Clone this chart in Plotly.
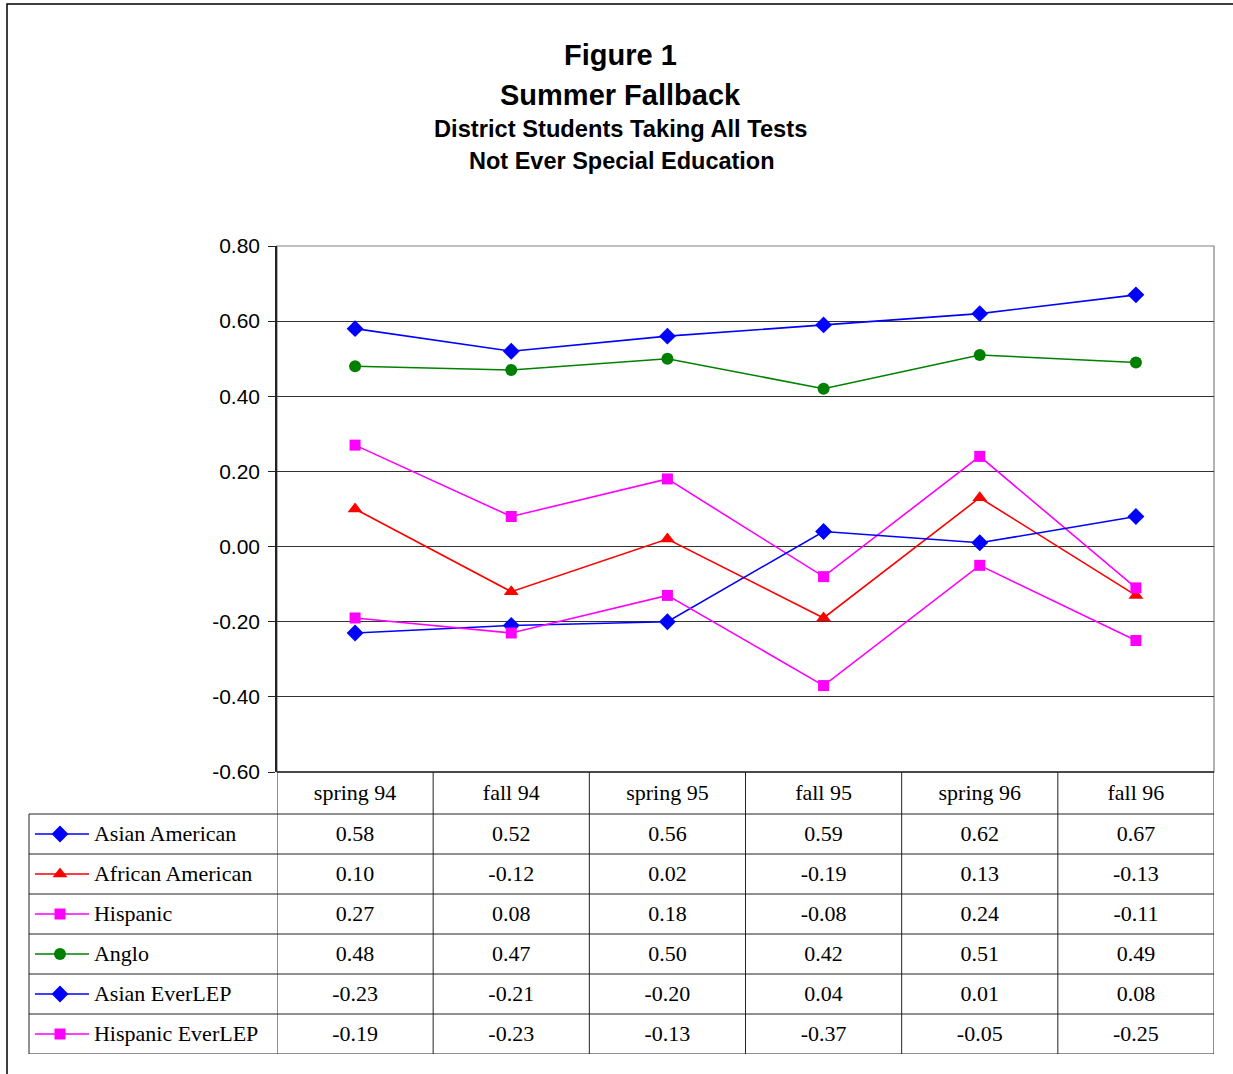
import plotly.graph_objects as go

# ---- data -------------------------------------------------------------
categories = ["spring 94", "fall 94", "spring 95", "fall 95", "spring 96", "fall 96"]

asian_american = [0.58, 0.52, 0.56, 0.59, 0.62, 0.67]
african_american = [0.10, -0.12, 0.02, -0.19, 0.13, -0.13]
hispanic = [0.27, 0.08, 0.18, -0.08, 0.24, -0.11]
anglo = [0.48, 0.47, 0.50, 0.42, 0.51, 0.49]
asian_everlep = [-0.23, -0.21, -0.20, 0.04, 0.01, 0.08]
hispanic_everlep = [-0.19, -0.23, -0.13, -0.37, -0.05, -0.25]

y_ticks = [-0.60, -0.40, -0.20, 0.00, 0.20, 0.40, 0.60, 0.80]

series = [
    ("Asian American", asian_american, "#0000FF", "diamond", 13),
    ("African American", african_american, "#FF0000", "triangle-up", 13),
    ("Hispanic", hispanic, "#FF00FF", "square", 11),
    ("Anglo", anglo, "#008000", "circle", 12),
    ("Asian EverLEP", asian_everlep, "#0000FF", "diamond", 13),
    ("Hispanic EverLEP", hispanic_everlep, "#FF00FF", "square", 11),
]

# ---- page geometry (pixels) ------------------------------------------
W, H = 1233, 1074
px = lambda v: v / W
py = lambda v: 1 - v / H

PLOT_L, PLOT_R, PLOT_T, PLOT_B = 277, 1214, 246, 772
TABLE_L, TABLE_B = 29, 1054

SERIF = "Liberation Serif, Times New Roman, serif"
SANS = "Liberation Sans, Arial, sans-serif"
LINE_COL = "#222222"
TABLE_FONT = dict(family=SERIF, size=22, color="black")

xs = list(range(len(categories)))
fig = go.Figure()

# chart lines
for name, vals, color, symbol, size in series:
    fig.add_trace(go.Scatter(
        x=xs, y=vals, mode="lines+markers", name=name,
        line=dict(color=color, width=1.6),
        marker=dict(color=color, symbol=symbol, size=size, line=dict(width=0)),
        xaxis="x", yaxis="y", showlegend=False, hoverinfo="skip",
    ))

# data table: header row (row 0) and one row per series (rows 1..6)
fig.add_trace(go.Scatter(
    x=xs, y=[0] * len(categories), mode="text", text=categories,
    textfont=TABLE_FONT,
    xaxis="x", yaxis="y2", showlegend=False, hoverinfo="skip",
))
for i, (name, vals, color, symbol, size) in enumerate(series, start=1):
    fig.add_trace(go.Scatter(
        x=xs, y=[i + 0.04] * len(vals), mode="text",
        text=[f"{v:.2f}" for v in vals],
        textfont=TABLE_FONT,
        xaxis="x", yaxis="y2", showlegend=False, hoverinfo="skip",
    ))
    # legend key inside the table's first column
    fig.add_trace(go.Scatter(
        x=[0.024, 0.242], y=[i, i], mode="lines",
        line=dict(color=color, width=1.6),
        xaxis="x3", yaxis="y2", showlegend=False, hoverinfo="skip",
    ))
    fig.add_trace(go.Scatter(
        x=[0.125], y=[i], mode="markers",
        marker=dict(color=color, symbol=symbol, size=size, line=dict(width=0)),
        xaxis="x3", yaxis="y2", showlegend=False, hoverinfo="skip",
    ))
    fig.add_trace(go.Scatter(
        x=[0.262], y=[i + 0.04], mode="text", text=[name], textposition="middle right",
        textfont=TABLE_FONT,
        xaxis="x3", yaxis="y2", showlegend=False, hoverinfo="skip",
    ))

shapes = []
# table rules
n_rows = len(series)
for k in range(n_rows + 1):
    shapes.append(dict(type="line", xref="paper", yref="y2",
                       x0=px(TABLE_L), x1=px(PLOT_R), y0=k + 0.5, y1=k + 0.5,
                       line=dict(color=LINE_COL, width=1)))
for c in range(len(categories) + 1):
    shapes.append(dict(type="line", xref="x", yref="y2",
                       x0=c - 0.5, x1=c - 0.5, y0=-0.55, y1=n_rows + 0.5,
                       line=dict(color=LINE_COL, width=1)))
shapes.append(dict(type="line", xref="paper", yref="y2",
                   x0=px(TABLE_L), x1=px(TABLE_L), y0=0.5, y1=n_rows + 0.5,
                   line=dict(color=LINE_COL, width=1)))
# plot-area frame
shapes.append(dict(type="rect", xref="paper", yref="paper",
                   x0=px(PLOT_L), x1=px(PLOT_R), y0=py(PLOT_B), y1=py(PLOT_T),
                   line=dict(color="#808080", width=1.2), layer="below"))
shapes.append(dict(type="line", xref="paper", yref="paper",
                   x0=px(PLOT_L), x1=px(PLOT_R), y0=py(PLOT_B), y1=py(PLOT_B),
                   line=dict(color="#222222", width=1.5)))
# outer chart border
shapes.append(dict(type="rect", xref="paper", yref="paper",
                   x0=px(7), x1=1.02, y0=-0.02, y1=py(4),
                   line=dict(color="black", width=1.5), layer="below"))

annotations = [
    dict(text="<b>Figure 1</b>", x=px(620), y=py(55), font=dict(family=SANS, size=29)),
    dict(text="<b>Summer Fallback</b>", x=px(620), y=py(95), font=dict(family=SANS, size=29)),
    dict(text="<b>District Students Taking All Tests</b>", x=px(620), y=py(129),
         font=dict(family=SANS, size=23.7)),
    dict(text="<b>Not Ever Special Education</b>", x=px(622), y=py(161),
         font=dict(family=SANS, size=23.5)),
]
for a in annotations:
    a.update(xref="paper", yref="paper", showarrow=False, xanchor="center",
             yanchor="middle")
    a["font"]["color"] = "black"

fig.update_layout(
    width=W, height=H, margin=dict(l=0, r=0, t=0, b=0, pad=0, autoexpand=False),
    paper_bgcolor="white", plot_bgcolor="white",
    shapes=shapes, annotations=annotations,
    xaxis=dict(domain=[px(PLOT_L), px(PLOT_R)], range=[-0.5, len(categories) - 0.5],
               showticklabels=False, showgrid=False, zeroline=False, showline=False,
               ticks="", anchor="y", automargin=False),
    yaxis=dict(domain=[py(PLOT_B), py(PLOT_T)], range=[-0.6, 0.8],
               tickvals=y_ticks, ticktext=[f"{v:.2f}" for v in y_ticks],
               ticks="outside", ticklen=7, tickcolor="#222222", tickwidth=1,
               ticklabelstandoff=4,
               showline=True, linecolor="#222222", linewidth=1.5,
               showgrid=True, gridcolor="#333333", gridwidth=1, zeroline=False,
               tickfont=dict(family=SANS, size=21, color="black"), anchor="x",
               automargin=False),
    yaxis2=dict(domain=[py(TABLE_B), py(PLOT_B)], range=[n_rows + 0.5, -0.55],
                visible=False, showgrid=False, zeroline=False, anchor="x",
                automargin=False),
    xaxis3=dict(domain=[px(TABLE_L), px(PLOT_L)], range=[0, 1],
                visible=False, showgrid=False, zeroline=False, anchor="y2",
                automargin=False),
)

fig.write_html("out.html")
